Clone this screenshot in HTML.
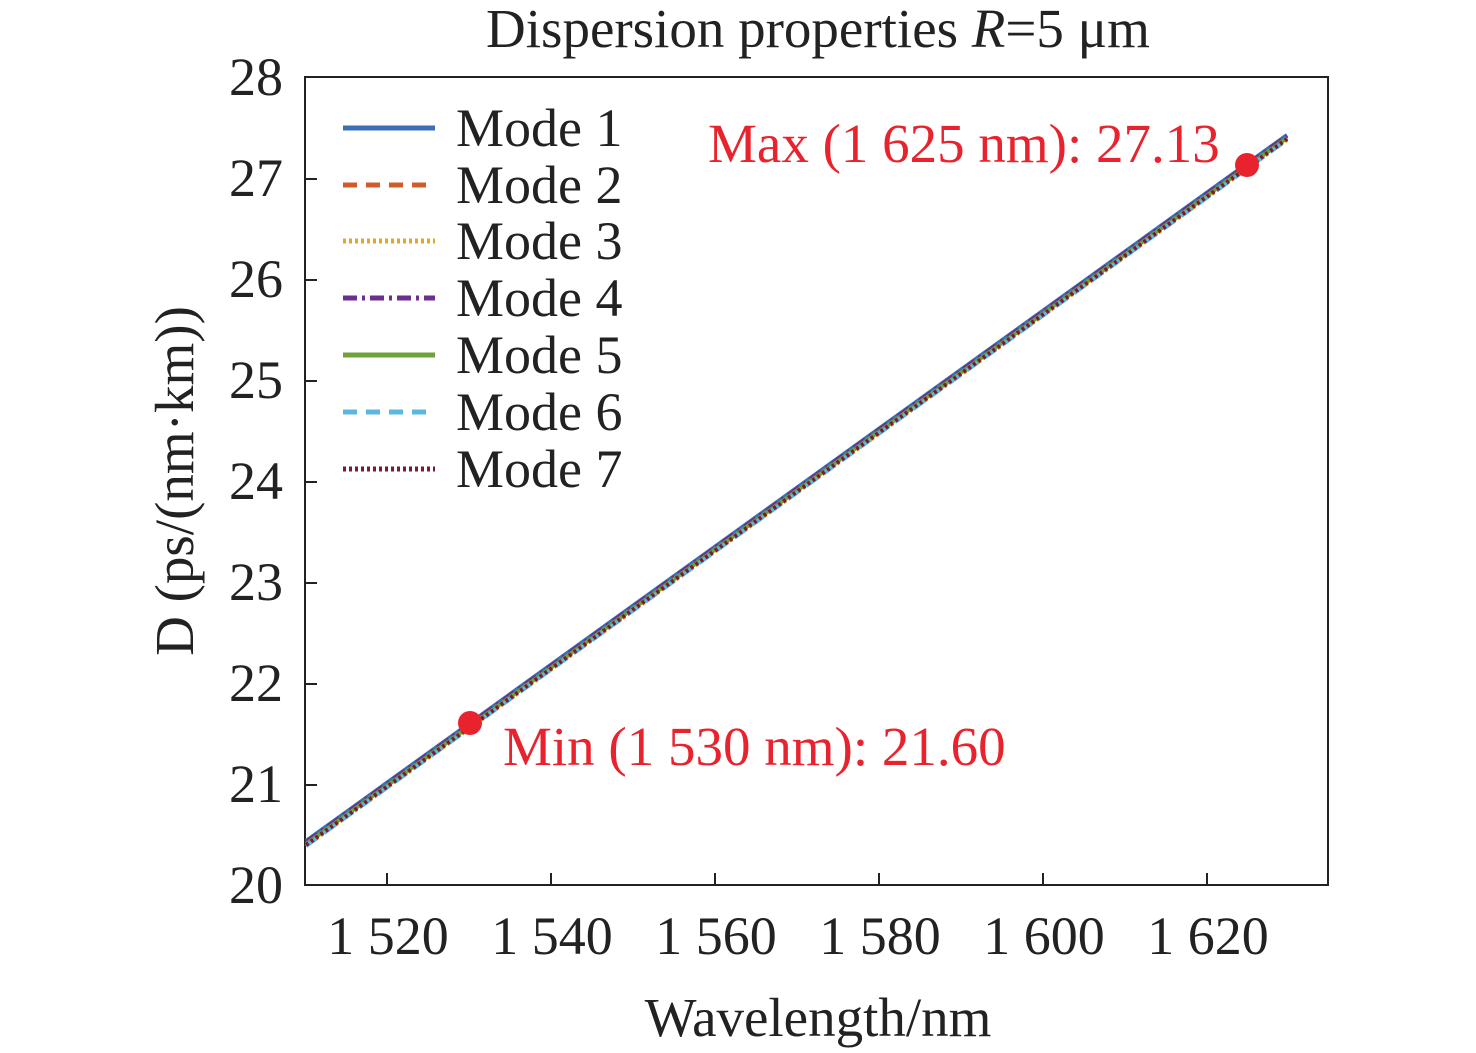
<!DOCTYPE html>
<html><head><meta charset="utf-8"><style>
html,body{margin:0;padding:0;background:#fff;}
svg{display:block;font-family:"Liberation Serif",serif;}
</style></head><body>
<svg width="1476" height="1053" viewBox="0 0 1476 1053" xmlns="http://www.w3.org/2000/svg">
<text x="818" y="47" font-size="55" text-anchor="middle" fill="#222">Dispersion properties <tspan font-style="italic">R</tspan>=5 μm</text>
<rect x="305" y="77" width="1023" height="808" fill="none" stroke="#222" stroke-width="2"/>
<g stroke="#222" stroke-width="2">
<line x1="305" y1="179" x2="317" y2="179"/><line x1="305" y1="280" x2="317" y2="280"/>
<line x1="305" y1="381" x2="317" y2="381"/><line x1="305" y1="482" x2="317" y2="482"/>
<line x1="305" y1="583" x2="317" y2="583"/><line x1="305" y1="684" x2="317" y2="684"/>
<line x1="305" y1="785" x2="317" y2="785"/>
<line x1="387" y1="885" x2="387" y2="873"/><line x1="551" y1="885" x2="551" y2="873"/>
<line x1="715" y1="885" x2="715" y2="873"/><line x1="879" y1="885" x2="879" y2="873"/>
<line x1="1043" y1="885" x2="1043" y2="873"/><line x1="1207" y1="885" x2="1207" y2="873"/>
</g>
<g font-size="54" fill="#222" text-anchor="end">
<text x="283" y="95">28</text><text x="283" y="196">27</text><text x="283" y="297">26</text>
<text x="283" y="398">25</text><text x="283" y="499">24</text><text x="283" y="600">23</text>
<text x="283" y="701">22</text><text x="283" y="802">21</text><text x="283" y="903">20</text>
</g>
<g font-size="54" fill="#222" text-anchor="middle">
<text x="388" y="954">1 520</text><text x="552" y="954">1 540</text><text x="716" y="954">1 560</text>
<text x="880" y="954">1 580</text><text x="1044" y="954">1 600</text><text x="1208" y="954">1 620</text>
</g>
<text x="818" y="1036" font-size="55" text-anchor="middle" fill="#222">Wavelength/nm</text>
<text transform="translate(193,481) rotate(-90)" font-size="55" text-anchor="middle" fill="#222">D (ps/(nm·km))</text>
<g fill="none" stroke-width="4">
<line x1="306" y1="841" x2="1287" y2="135" stroke="#3a6fb5"/>
<line x1="306" y1="845" x2="1287" y2="139" stroke="#d35a2a" stroke-dasharray="14,8"/>
<line x1="306" y1="846" x2="1287" y2="140" stroke="#e0a92a" stroke-dasharray="3,3"/>
<line x1="306" y1="842" x2="1287" y2="136" stroke="#6a2f91" stroke-dasharray="14,5,3,5"/>
<line x1="306" y1="844" x2="1287" y2="138" stroke="#6fa23a"/>
<line x1="306" y1="846" x2="1287" y2="140" stroke="#5bb7e0" stroke-dasharray="14,8"/>
<line x1="306" y1="845" x2="1287" y2="139" stroke="#7b1a2e" stroke-dasharray="3,3"/>
</g>
<circle cx="470" cy="723" r="12" fill="#e8232d"/>
<circle cx="1247" cy="165" r="12" fill="#e8232d"/>
<text x="708" y="162" font-size="55" fill="#e8232d">Max (1 625 nm): 27.13</text>
<text x="503" y="765" font-size="55" fill="#e8232d">Min (1 530 nm): 21.60</text>
<g stroke-width="5" fill="none">
<line x1="343" y1="128" x2="435" y2="128" stroke="#3a6fb5"/>
<line x1="343" y1="185" x2="435" y2="185" stroke="#d35a2a" stroke-dasharray="14,9"/>
<line x1="343" y1="241" x2="435" y2="241" stroke="#e0a92a" stroke-dasharray="3,3"/>
<line x1="343" y1="298" x2="435" y2="298" stroke="#6a2f91" stroke-dasharray="14,5,3,5"/>
<line x1="343" y1="355" x2="435" y2="355" stroke="#6fa23a"/>
<line x1="343" y1="412" x2="435" y2="412" stroke="#5bb7e0" stroke-dasharray="14,9"/>
<line x1="343" y1="469" x2="435" y2="469" stroke="#7b1a2e" stroke-dasharray="3,3"/>
</g>
<g font-size="54" fill="#222">
<text x="456" y="146">Mode 1</text><text x="456" y="203">Mode 2</text><text x="456" y="259">Mode 3</text>
<text x="456" y="316">Mode 4</text><text x="456" y="373">Mode 5</text><text x="456" y="430">Mode 6</text>
<text x="456" y="487">Mode 7</text>
</g>
</svg>
</body></html>
